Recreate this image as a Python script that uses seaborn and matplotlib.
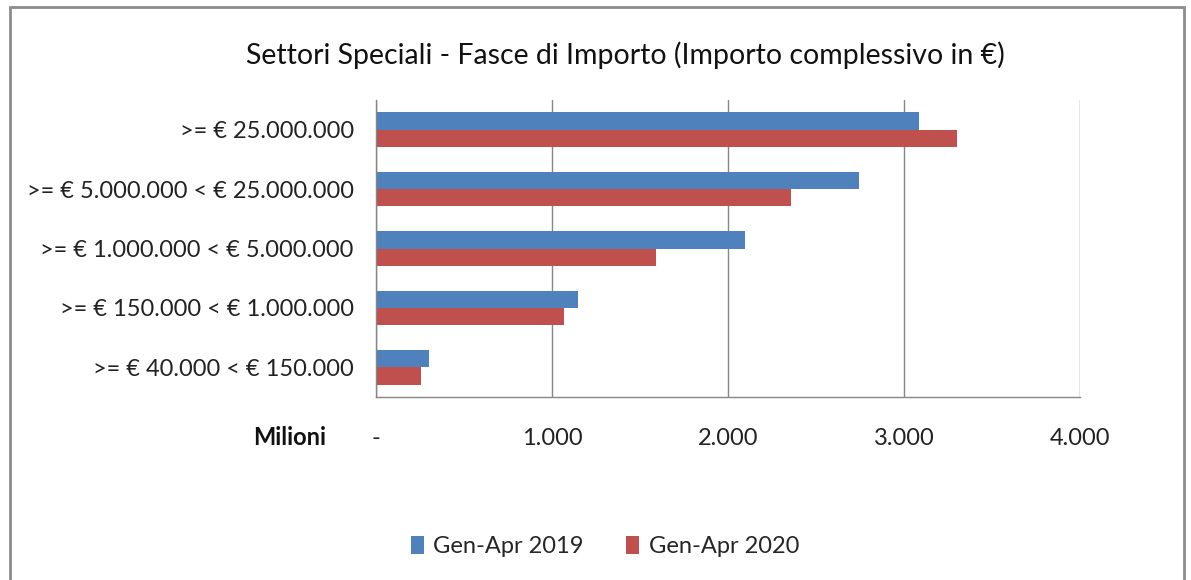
import numpy as np
import pandas as pd
import matplotlib
matplotlib.use("Agg")
import matplotlib.pyplot as plt
import matplotlib.ticker as ticker
from matplotlib.patches import Rectangle
import seaborn as sns

# dati (milioni di euro)
fasce = [">= € 25.000.000",
         ">= € 5.000.000 < € 25.000.000",
         ">= € 1.000.000 < € 5.000.000",
         ">= € 150.000 < € 1.000.000",
         ">= € 40.000 < € 150.000"]
periodi = ["Gen-Apr 2019", "Gen-Apr 2020"]
importi_2019 = [3085, 2746, 2097, 1150, 301]
importi_2020 = [3300, 2360, 1590, 1071, 256]
colori = ["#4F81BD", "#C0504D"]

df = pd.DataFrame({
    "fascia": fasce * 2,
    "periodo": [periodi[0]] * len(fasce) + [periodi[1]] * len(fasce),
    "importo": importi_2019 + importi_2020,
})

sns.set_style("white")
plt.rcParams["font.family"] = ["Lato", "DejaVu Sans"]

fig = plt.figure(figsize=(11.91, 5.80), dpi=100)
ax = fig.add_axes([0.3157, 0.3155, 0.5911, 0.5121])

sns.barplot(data=df, x="importo", y="fascia", hue="periodo", orient="h",
            palette=colori, width=0.58, saturation=1, linewidth=0,
            ax=ax, legend=True)

ax.set_xlim(0, 4000)
ax.set_ylim(4.5, -0.5)
ax.xaxis.set_major_locator(ticker.MultipleLocator(1000))
ax.xaxis.set_major_formatter(ticker.FuncFormatter(
    lambda v, p: "-" if v == 0 else f"{int(v):,}".replace(",", ".")))
ax.grid(axis="x", color="#868686", lw=1)
ax.set_axisbelow(True)
ax.set_xlabel("")
ax.set_ylabel("")

for s in ["top", "right"]:
    ax.spines[s].set_visible(False)
for s in ["left", "bottom"]:
    ax.spines[s].set_color("#868686")
    ax.spines[s].set_linewidth(1)

ax.tick_params(axis="x", length=5, color="#868686", direction="out",
               pad=17, labelsize=17, labelcolor="#222222")
ax.tick_params(axis="y", which="major", length=0, pad=16, labelsize=17,
               labelcolor="#222222")
ax.set_yticks(np.arange(-0.5, 5, 1), minor=True)
ax.tick_params(axis="y", which="minor", length=5, color="#868686",
               direction="out")

fig.text(0.525, 0.905, "Settori Speciali - Fasce di Importo (Importo complessivo in €)",
         ha="center", va="center", fontsize=20.5, color="#111111")
fig.text(0.243, 0.246, "Milioni", ha="center", va="center",
         fontsize=17, fontweight="bold", color="#111111")

ax.legend_.remove()
handles, labels = ax.get_legend_handles_labels()
fig.legend(handles, labels, loc="center", bbox_to_anchor=(0.508, 0.058),
           ncol=2, frameon=False, fontsize=17, handlelength=0.55,
           handleheight=0.8, handletextpad=0.4, columnspacing=1.8)

# cornice del grafico
fig.patches.append(Rectangle((10 / 1191, -0.05), 1174 / 1191, 1.05 - 7 / 580,
                             transform=fig.transFigure, fill=False,
                             edgecolor="#8c8c8c", lw=2))

fig.savefig("out.png", dpi=100)
